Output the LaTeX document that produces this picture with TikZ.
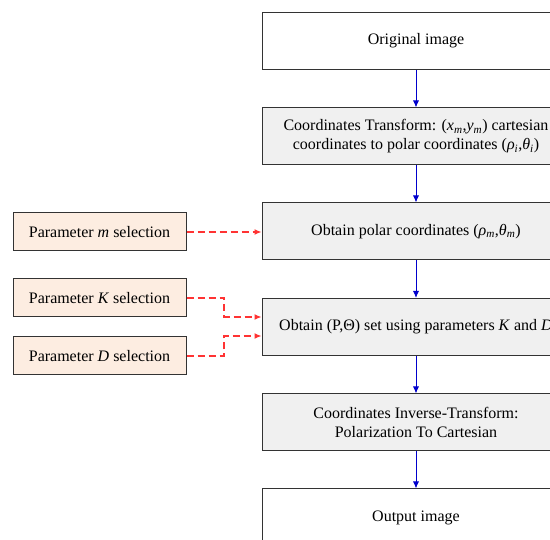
\documentclass[tikz,border=0pt]{standalone}
\usepackage{fontspec}
\setmainfont{Liberation Serif}
\usetikzlibrary{arrows.meta}
\definecolor{boxgray}{HTML}{F0F0F0}
\definecolor{paramfill}{HTML}{FDEDE1}
\definecolor{edgecol}{HTML}{333333}
\definecolor{flowblue}{HTML}{0000CC}
\definecolor{dashred}{HTML}{FF3333}
\tikzset{
  mainbox/.style={draw=edgecol, line width=1pt, minimum width=308pt, minimum height=57pt, align=center, inner sep=2pt, font=\fontsize{16}{19}\selectfont},
  parambox/.style={draw=edgecol, line width=1pt, fill=paramfill, minimum width=173pt, minimum height=38pt, align=center, font=\fontsize{16}{19}\selectfont},
  flow/.style={draw=flowblue, line width=0.9pt, -{Latex[length=7pt,width=6pt]}},
  paramarrow/.style={draw=dashred, line width=1.2pt, dash pattern=on 7pt off 4pt, -{Latex[length=7pt,width=6pt]}}
}
\begin{document}
\begin{tikzpicture}[x=1pt,y=-1pt]
\useasboundingbox[clip] (0,0) rectangle (550,540);
\node[mainbox, fill=white] (orig) at (416,41) {Original image};
\node[mainbox, fill=boxgray] (trans) at (416,136.5) {Coordinates Transform: (\textit{x}\textsubscript{\textit{m}},\textit{y}\textsubscript{\textit{m}}) cartesian\\coordinates to polar coordinates (\textit{ρ}\textsubscript{\textit{i}},\textit{θ}\textsubscript{\textit{i}})};
\node[mainbox, fill=boxgray] (polar) at (416,231.5) {Obtain polar coordinates (\textit{ρ}\textsubscript{\textit{m}},\textit{θ}\textsubscript{\textit{m}})};
\node[mainbox, fill=boxgray] (set) at (416,327) {Obtain (P,Θ) set using parameters \textit{K} and \textit{D}};
\node[mainbox, fill=boxgray] (inv) at (416,422.5) {Coordinates Inverse-Transform:\\Polarization To Cartesian};
\node[mainbox, fill=white] (out) at (416,517.5) {Output image};
\node[parambox] (pm) at (99.5,232) {Parameter \textit{m} selection};
\node[parambox] (pk) at (99.5,298) {Parameter \textit{K} selection};
\node[parambox] (pd) at (99.5,356) {Parameter \textit{D} selection};
\draw[flow] (orig) -- (trans);
\draw[flow] (trans) -- (polar);
\draw[flow] (polar) -- (set);
\draw[flow] (set) -- (inv);
\draw[flow] (inv) -- (out);
\draw[paramarrow] (pm.east) -- (pm.east -| polar.west);
\coordinate (kin) at ([yshift=10pt]set.west);
\coordinate (din) at ([yshift=-9pt]set.west);
\draw[paramarrow] (pk.east) -- (224,298) |- (kin);
\draw[paramarrow] (pd.east) -- (224,356) |- (din);
\end{tikzpicture}
\end{document}
